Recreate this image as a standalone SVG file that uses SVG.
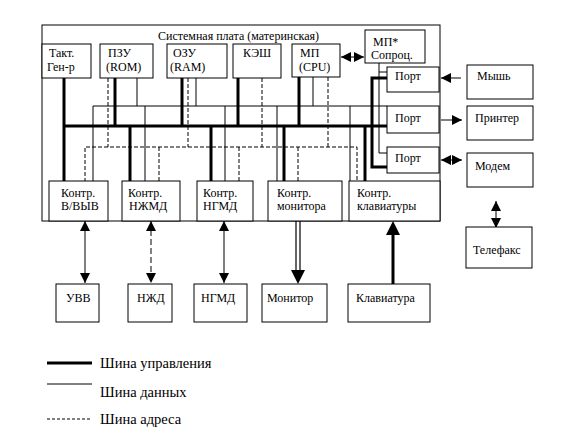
<svg xmlns="http://www.w3.org/2000/svg" width="572" height="442" viewBox="0 0 572 442" font-family="Liberation Serif, serif">
<style>
.box{fill:#fff;stroke:#000;stroke-width:1}
.t{font-size:12px;fill:#000}
.lg{font-size:14.5px;fill:#000}
.ctl{stroke:#000;stroke-width:3;fill:none}
.dat{stroke:#000;stroke-width:1;fill:none}
.adr{stroke:#000;stroke-width:1;fill:none;stroke-dasharray:4 2}
.arr{stroke:#000;stroke-width:1;fill:none}
</style>
<defs>
<marker id="ah" markerUnits="userSpaceOnUse" markerWidth="10" markerHeight="10" refX="8" refY="4" orient="auto-start-reverse" viewBox="0 0 8 8">
<path d="M0,0 L8,4 L0,8 Z" fill="#000"/>
</marker>
</defs>
<rect width="572" height="442" fill="#fff"/>

<g id="board">
<rect class="box" x="42" y="25" width="398" height="196" fill="none"/>
<text class="t" x="158" y="40" font-size="11.5">Системная плата (материнская)</text>
</g>

<g id="connectors">
<path class="ctl" d="M64,78 V182 M64,126 H387 M115,78 V126 M182,78 V126 M238,78 V126 M299,77 V126 M130,126 V182 M211,126 V182 M284,126 V182 M365,126 V182 M387,78 H372 V167 H387"/>
<path class="dat" d="M93,182 V106 H387 M137,78 V106 M196,78 V106 M313,77 V106 M145,106 V182 M225,106 V182 M277,106 V182 M350,106 V182 M387,72 H379 V153 H387 M379,63 V72"/>
<path class="adr" d="M85,182 V147 H357 V182 M108,78 V147 M188,78 V147 M262,78 V147 M328,77 V147 M159,147 V182 M239,147 V182 M298,147 V182"/>
<line class="arr" x1="341" y1="57" x2="364" y2="57" stroke-width="2" marker-start="url(#ah)" marker-end="url(#ah)"/>
<line class="arr" x1="461" y1="78" x2="441" y2="78" marker-end="url(#ah)"/>
<line class="arr" x1="441" y1="120" x2="462" y2="120" marker-end="url(#ah)"/>
<line class="arr" x1="441" y1="160" x2="462" y2="160" marker-start="url(#ah)" marker-end="url(#ah)"/>
<line class="arr" x1="496" y1="201" x2="496" y2="228" marker-start="url(#ah)" marker-end="url(#ah)"/>
<line class="arr" x1="85" y1="221" x2="85" y2="283" marker-start="url(#ah)" marker-end="url(#ah)"/>
<line class="arr" x1="151" y1="221" x2="151" y2="283" stroke-dasharray="6 3" marker-start="url(#ah)" marker-end="url(#ah)"/>
<line class="arr" x1="224" y1="221" x2="224" y2="283" marker-start="url(#ah)" marker-end="url(#ah)"/>
<path d="M296,221 V271 M300,221 V271" stroke="#000" stroke-width="1.2" fill="none"/>
<path d="M291,270 L305,270 L298,284 Z" fill="#000"/>
<path d="M393,284 V233" stroke="#000" stroke-width="3" fill="none"/>
<path d="M386,235 L400,235 L393,221 Z" fill="#000"/>
</g>

<g id="gen"><rect class="box" x="42" y="44" width="49" height="34"/><text class="t" x="49" y="57">Такт.</text><text class="t" x="47" y="71">Ген-р</text></g>
<g id="rom"><rect class="box" x="100" y="44" width="53" height="34"/><text class="t" x="108" y="57">ПЗУ</text><text class="t" x="106" y="71">(ROM)</text></g>
<g id="ram"><rect class="box" x="167" y="44" width="60" height="34"/><text class="t" x="173" y="57">ОЗУ</text><text class="t" x="170" y="71">(RAM)</text></g>
<g id="cache"><rect class="box" x="233" y="44" width="48" height="34"/><text class="t" x="243" y="57">КЭШ</text></g>
<g id="cpu"><rect class="box" x="292" y="44" width="48" height="33"/><text class="t" x="300" y="57">МП</text><text class="t" x="299" y="71">(CPU)</text></g>
<g id="copro"><rect class="box" x="365" y="30" width="60" height="33"/><text class="t" x="373" y="46">МП*</text><text class="t" x="371" y="59">Сопроц.</text></g>

<g id="port1"><rect class="box" x="387" y="67" width="52" height="25"/><text class="t" x="395" y="80">Порт</text></g>
<g id="port2"><rect class="box" x="387" y="106" width="52" height="27"/><text class="t" x="395" y="122">Порт</text></g>
<g id="port3"><rect class="box" x="387" y="147" width="52" height="26"/><text class="t" x="395" y="162">Порт</text></g>

<g id="mouse"><rect class="box" x="467" y="65" width="66" height="34"/><text class="t" x="477" y="80">Мышь</text></g>
<g id="printer"><rect class="box" x="467" y="106" width="66" height="34"/><text class="t" x="475" y="122">Принтер</text></g>
<g id="modem"><rect class="box" x="467" y="153" width="66" height="34"/><text class="t" x="475" y="170">Модем</text></g>
<g id="fax"><rect class="box" x="466" y="227" width="66" height="41"/><text class="t" x="473" y="254">Телефакс</text></g>

<g id="c_io"><rect class="box" x="49" y="181" width="59" height="40"/><text class="t" x="61" y="197">Контр.</text><text class="t" x="61" y="210">В/ВЫВ</text></g>
<g id="c_hdd"><rect class="box" x="122" y="181" width="58" height="40"/><text class="t" x="128" y="197">Контр.</text><text class="t" x="129" y="210">НЖМД</text></g>
<g id="c_fdd"><rect class="box" x="197" y="181" width="56" height="40"/><text class="t" x="203" y="197">Контр.</text><text class="t" x="203" y="210">НГМД</text></g>
<g id="c_mon"><rect class="box" x="268" y="181" width="74" height="40"/><text class="t" x="277" y="197">Контр.</text><text class="t" x="277" y="210">монитора</text></g>
<g id="c_kbd"><rect class="box" x="349" y="181" width="91" height="40"/><text class="t" x="357" y="197">Контр.</text><text class="t" x="357" y="210">клавиатуры</text></g>

<g id="uvv"><rect class="box" x="56" y="284" width="43" height="38"/><text class="t" x="66" y="302">УВВ</text></g>
<g id="nzhd"><rect class="box" x="128" y="284" width="44" height="38"/><text class="t" x="137" y="302">НЖД</text></g>
<g id="ngmd"><rect class="box" x="194" y="284" width="53" height="38"/><text class="t" x="201" y="302">НГМД</text></g>
<g id="monitor"><rect class="box" x="262" y="284" width="65" height="38"/><text class="t" x="267" y="302">Монитор</text></g>
<g id="keyboard"><rect class="box" x="348" y="284" width="82" height="38"/><text class="t" x="356" y="302">Клавиатура</text></g>

<g id="legend">
<line x1="47" y1="363" x2="92" y2="363" stroke="#000" stroke-width="3"/>
<text class="lg" x="100" y="368">Шина управления</text>
<line x1="47" y1="384" x2="92" y2="384" stroke="#000" stroke-width="1"/>
<text class="lg" x="100" y="397">Шина данных</text>
<line x1="47" y1="419" x2="92" y2="419" stroke="#000" stroke-width="1" stroke-dasharray="3 2"/>
<text class="lg" x="100" y="424">Шина адреса</text>
</g>
</svg>
